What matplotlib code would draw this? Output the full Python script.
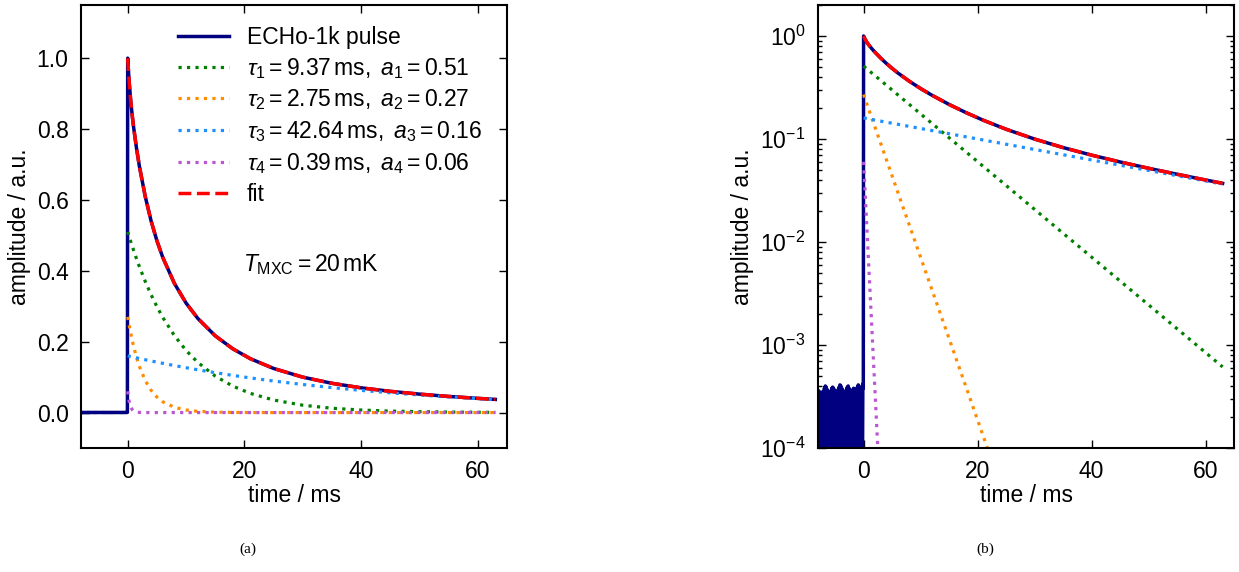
import numpy as np
import matplotlib
matplotlib.use("Agg")
import matplotlib.pyplot as plt

plt.rcParams['font.family'] = ['Liberation Sans', 'DejaVu Sans']
plt.rcParams['mathtext.fontset'] = 'custom'
plt.rcParams['mathtext.rm'] = 'Liberation Sans'
plt.rcParams['mathtext.it'] = 'Liberation Sans:italic'
plt.rcParams['mathtext.bf'] = 'Liberation Sans:bold'
plt.rcParams['font.size'] = 16.5

# time after trigger (ms)
t_fit = [0, 0.25, 0.5, 0.75, 1, 1.5, 2, 3, 4, 5, 6, 8, 10, 12, 15, 18, 21,
         25, 30, 35, 40, 45, 50, 55, 60, 63]

# single exponential components
comp1 = [0.51, 0.4966, 0.4835, 0.4708, 0.4584, 0.4346, 0.4120, 0.3703, 0.3328,
         0.2991, 0.2688, 0.2172, 0.1754, 0.1417, 0.1029, 0.0747, 0.0542,
         0.0354, 0.02075, 0.01217, 0.00714, 0.004187, 0.002455, 0.00144,
         0.000845, 0.000613]
comp2 = [0.27, 0.2465, 0.2251, 0.2056, 0.1877, 0.1565, 0.1305, 0.0907, 0.0630,
         0.04383, 0.03047, 0.01472, 0.007115, 0.003438, 0.001155, 0.000388,
         1.30e-4, 3.04e-5, 4.94e-6, 8.0e-7, 1.3e-7, 2.1e-8, 3.4e-9, 5.6e-10,
         9.0e-11, 3.0e-11]
comp3 = [0.16, 0.15906, 0.15813, 0.15721, 0.15629, 0.15447, 0.15267, 0.14913,
         0.14567, 0.14230, 0.13900, 0.13263, 0.12655, 0.12075, 0.11255,
         0.10490, 0.09778, 0.08902, 0.07917, 0.07041, 0.06262, 0.05569,
         0.04953, 0.04405, 0.03918, 0.03651]
comp4 = [0.06, 0.03161, 0.01665, 0.00877, 0.004619, 0.001282, 3.557e-4,
         2.74e-5, 2.11e-6, 1.62e-7, 1.25e-8, 7.4e-11, 4.4e-13, 2.6e-15,
         1.2e-18, 5.4e-22, 2.5e-25, 9.4e-30, 2.4e-35, 6e-41, 1.7e-46,
         4.6e-52, 1.2e-57, 3.2e-63, 8.4e-69, 3.7e-72]
fit = [1.0, 0.93377, 0.88338, 0.84238, 0.80701, 0.74685, 0.69553, 0.61016,
       0.54147, 0.48523, 0.43827, 0.36455, 0.30907, 0.26589, 0.21661,
       0.17999, 0.15211, 0.12445, 0.09993, 0.08258, 0.06976, 0.05988,
       0.05199, 0.04549, 0.04003, 0.03712]

# baseline noise before the trigger, in units of 1e-4
noise_1e4 = [3.6, 0.6, 3.4, 0.3, 3.3, 0.8, 3.5, 1.6, 3.2, 1.5,
             3.4, 1.7, 3.5, 0.7, 3.8, 0.4, 4.0, 0.5, 3.9, 0.6,
             3.7, 0.3, 3.5, 0.9, 3.3, 0.5, 3.4, 0.4, 3.6, 0.4,
             3.8, 0.7, 3.9, 0.2, 3.8, 0.8, 3.6, 1.5, 3.4, 1.6,
             3.3, 1.5, 3.5, 0.6, 3.7, 0.9, 3.9, 0.4, 4.1, 0.3,
             4.0, 0.5, 3.8, 0.7, 3.6, 0.2, 3.4, 1.0, 3.3, 0.6,
             3.5, 0.4, 3.7, 0.8, 3.9, 0.5, 4.0, 0.3, 3.8, 0.7,
             3.6, 0.5, 3.4, 0.6, 3.5, 1.5, 3.7, 1.7, 3.8, 1.6,
             3.6, 0.5, 3.5, 0.4, 3.7, 0.7, 3.9, 0.2, 4.1, 0.6,
             3.9, 0.5, 3.7, 0.8, 3.8, 1.6, 4.0, 0.4, 4.2, 3.8]

labels = [r'$\tau_1 = 9.37\,\mathrm{ms},\ a_1 = 0.51$',
          r'$\tau_2 = 2.75\,\mathrm{ms},\ a_2 = 0.27$',
          r'$\tau_3 = 42.64\,\mathrm{ms},\ a_3 = 0.16$',
          r'$\tau_4 = 0.39\,\mathrm{ms},\ a_4 = 0.06$']
colors = ['green', 'darkorange', 'dodgerblue', 'mediumorchid']

t_noise = np.linspace(-8, -0.05, len(noise_1e4))
t_pulse = np.concatenate([t_noise, t_fit])
y_pulse = np.concatenate([np.array(noise_1e4) * 1e-4, fit])


def draw_panel(ax):
    ax.plot(t_pulse, y_pulse, color='navy', lw=2.5, label='ECHo-1k pulse')
    for comp, c, lab in zip([comp1, comp2, comp3, comp4], colors, labels):
        ax.plot(t_fit, comp, color=c, lw=2.3, ls=':', label=lab)
    ax.plot(t_fit, fit, color='red', lw=2.5, ls='--', label='fit')
    ax.set_xlim(-8, 65)
    ax.set_xticks([0, 20, 40, 60])
    ax.set_xlabel('time / ms', labelpad=0)
    ax.set_ylabel('amplitude / a.u.')
    ax.tick_params(which='both', direction='in', top=True, right=True, width=1)
    ax.tick_params(which='major', length=6, pad=9)
    ax.tick_params(which='minor', length=3)
    for s in ax.spines.values():
        s.set_linewidth(1.5)


fig = plt.figure(figsize=(12.39, 5.72), dpi=100)
W, H = 1239, 572
ax1 = fig.add_axes([81 / W, (H - 448) / H, 426 / W, 443 / H])
ax2 = fig.add_axes([818 / W, (H - 448) / H, 416 / W, 443 / H])

draw_panel(ax1)
ax1.set_ylim(-0.1, 1.15)
ax1.set_yticks([0.0, 0.2, 0.4, 0.6, 0.8, 1.0])
ax1.set_yticklabels(['0.0', '0.2', '0.4', '0.6', '0.8', '1.0'])
ax1.legend(loc='upper left', bbox_to_anchor=(0.228, 0.953), frameon=False,
           borderpad=0, borderaxespad=0, handlelength=2.2, handletextpad=0.8,
           labelspacing=0.3, fontsize=16.5)
ax1.text(0.38, 0.413, r'$T_\mathrm{MXC} = 20\,\mathrm{mK}$', transform=ax1.transAxes,
         ha='left', va='center', fontsize=16.5)

draw_panel(ax2)
ax2.set_yscale('log')
ax2.set_ylim(1e-4, 2)

fig.text(248 / W, 1 - 549 / H, '(a)', ha='center', va='center',
         family='Liberation Serif', fontsize=11)
fig.text(985 / W, 1 - 549 / H, '(b)', ha='center', va='center',
         family='Liberation Serif', fontsize=11)

fig.savefig('out.png', dpi=100)
